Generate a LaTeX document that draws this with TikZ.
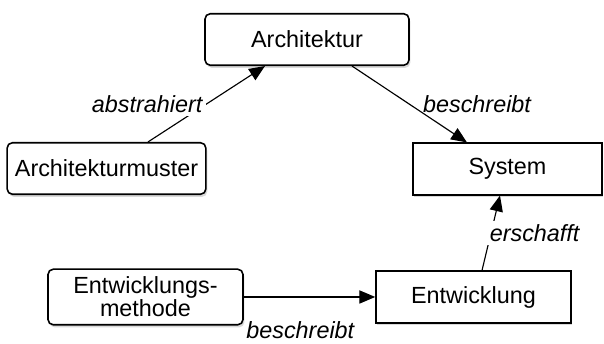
\documentclass[tikz,border=0pt]{standalone}
\usepackage{fontspec}
\setmainfont{Liberation Sans}
\usepackage{tikz}
\usetikzlibrary{positioning, arrows, arrows.meta, shadows}

\begin{document}
\begin{tikzpicture}[scale=1.0,
  box/.style={draw,line width=0.9pt,fill=white,minimum height=1.03cm,align=center,
    drop shadow={opacity=0.3,shadow xshift=0.8pt,shadow yshift=-1.5pt}},
  rbox/.style={box,rounded corners=3pt},
  rel/.style={-{Triangle[length=9pt,width=7.5pt]},line width=0.65pt},
  lab/.style={font=\itshape}]
\useasboundingbox (0,0) rectangle (12.08,6.88);
\fontsize{13.3}{14}\selectfont
\node[rbox,minimum width=4.08cm] (arch) at (6.14,6.09) {Architektur};
\node[rbox,minimum width=3.9cm] (muster) at (2.13,3.51) {Architekturmuster};
\node[box,minimum width=3.78cm] (system) at (10.15,3.5) {System};
\node[rbox,minimum width=3.9cm] (methode) at (2.91,0.94) {Entwicklungs-\\[-1pt]methode};
\node[box,minimum width=3.9cm] (entw) at (9.47,0.94) {Entwicklung};
\draw[rel] ([xshift=0.83cm]muster.north)--([xshift=-0.84cm]arch.south)
  node[lab,midway,left=0pt,fill=white,inner sep=2pt] {abstrahiert};
\draw[rel] ([xshift=0.9cm]arch.south)--([xshift=-0.81cm]system.north)
  node[lab,midway,right=3pt] {beschreibt};
\draw[rel] ([xshift=0.17cm]entw.north)--([xshift=-0.15cm]system.south)
  node[lab,midway,right=-3pt,fill=white,inner sep=2pt] {erschafft};
\draw[rel] (methode.east)--(entw.west)
  node[lab,pos=0.43,below=9pt] {beschreibt};
\end{tikzpicture}
\end{document}
